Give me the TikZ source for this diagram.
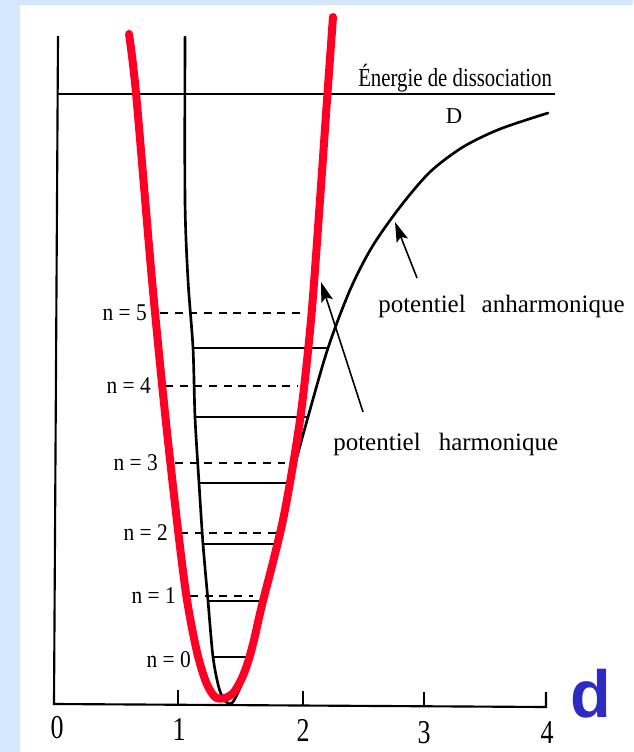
\documentclass[tikz,border=0pt]{standalone}
\usepackage{fontspec}
\setmainfont{Liberation Serif}
\newfontfamily\dletterfont{Liberation Sans}
\usetikzlibrary{arrows.meta}
\definecolor{bgblue}{RGB}{213,231,251}
\definecolor{redcurve}{RGB}{255,0,36}
\definecolor{dblue}{RGB}{44,44,196}
\newcommand{\hsqz}[2]{\scalebox{#1}[1]{#2}}
\begin{document}
\begin{tikzpicture}[x=0.75pt,y=-0.75pt,
  axisline/.style={line width=1.6pt,black,line join=miter},
  curveline/.style={line width=2pt,black,line cap=round,line join=round},
  levelsolid/.style={line width=1.3pt,black},
  leveldash/.style={line width=1.4pt,black,dash pattern=on 6pt off 5pt},
  redpar/.style={line width=6pt,redcurve,line cap=round,line join=round},
  nlabel/.style={font=\fontsize{18}{18}\selectfont,inner sep=0pt,anchor=east},
  ticklabel/.style={font=\fontsize{25}{25}\selectfont,inner sep=0pt},
  biglabel/.style={font=\fontsize{18.75}{19}\selectfont,inner sep=0pt,anchor=base west},
  pointer/.style={line width=1.2pt,black,-{Stealth[length=15pt,width=9pt,inset=3pt]}}
]
% background
\useasboundingbox (0,0) rectangle (633,752);
\fill[bgblue] (0,0) rectangle (633,752);
\fill[white] (20,5) rectangle (633,752);

% axes
\draw[axisline] (58,36) -- (54,704) -- (546,707) -- (546,692);
\draw[axisline] (178,704) -- (178,690);
\draw[axisline] (303,705) -- (303,691);
\draw[axisline] (424,706) -- (424,692);

\node[ticklabel] (t0) at (57,728) {\hsqz{0.78}{0}};
\node[ticklabel] (t1) at (179,729) {\hsqz{0.78}{1}};
\node[ticklabel] (t2) at (303,730) {\hsqz{0.78}{2}};
\node[ticklabel] (t3) at (424,733) {\hsqz{0.78}{3}};
\node[ticklabel] (t4) at (547,733) {\hsqz{0.78}{4}};

% dissociation energy
\draw[axisline] (58,94) -- (555,94);
\node[biglabel,font=\fontsize{19.5}{20}\selectfont] (edis) at (358,87) {\hsqz{0.8}{Énergie de dissociation}};
\node[font=\fontsize{17}{17}\selectfont,inner sep=0pt] (dlab) at (454,116) {D};

% anharmonic potential
\draw[curveline] plot[smooth,tension=0.5] coordinates {
  (185,37) (185,200) (188,280) (193,348) (195,417) (199,483) (203,544)
  (208,601) (213,657) (219,688) (225,701) (232,703) (240,688) (248,665)
  (255,635) (262,601) (275,544) (290,483) (308,417)
  (328,348) (350,290) (372,247) (400,207) (430,172) (463,147) (500,129) (548,113)};

% anharmonic levels (solid)
\draw[levelsolid] (193,348) -- (329,348);
\draw[levelsolid] (195,417) -- (309,417);
\draw[levelsolid] (199,483) -- (290,483);
\draw[levelsolid] (203,544) -- (274,544);
\draw[levelsolid] (208,601) -- (260,601);
\draw[levelsolid] (213,657) -- (248,657);

% harmonic levels (dashed)
\draw[leveldash] (160,313) -- (303,313);
\draw[leveldash] (165,386) -- (298,386);
\draw[leveldash] (175,463) -- (285,463);
\draw[leveldash] (180,533) -- (277,533);
\draw[leveldash] (190,596) -- (253,596);

\node[nlabel] (n5) at (147,313) {\hsqz{0.89}{n = 5}};
\node[nlabel] (n4) at (151,386) {\hsqz{0.89}{n = 4}};
\node[nlabel] (n3) at (158,463) {\hsqz{0.89}{n = 3}};
\node[nlabel] (n2) at (168,533) {\hsqz{0.89}{n = 2}};
\node[nlabel] (n1) at (176,596) {\hsqz{0.89}{n = 1}};
\node[nlabel] (n0) at (191,660) {\hsqz{0.89}{n = 0}};

% harmonic potential (red)
\draw[redpar] plot[smooth,tension=0.5] coordinates {
  (129,34) (136,93) (152,280) (165,413) (178,530) (187,600) (197,652)
  (206,682) (215,697) (225,698) (234,692) (242,678) (248,662) (254,640)
  (262,605) (283,520) (300,420) (311,320) (320,200) (327,100) (333,17)};

% labels and pointers
\node[biglabel] (anh) at (378,312) {potentiel\hspace{0.64em}anharmonique};
\node[biglabel] (har) at (333,450) {potentiel\hspace{0.72em}harmonique};
\coordinate (anhtail) at (417,278);
\coordinate (anhtip) at (395,222);
\coordinate (hartail) at (363,412);
\coordinate (hartip) at (321,282);
\draw[pointer] (anhtail) -- (anhtip);
\draw[pointer] (hartail) -- (hartip);

% panel letter
\node[font=\dletterfont\bfseries\fontsize{50}{50}\selectfont,text=dblue,inner sep=0pt] (dletter) at (591,694) {d};
\end{tikzpicture}
\end{document}
